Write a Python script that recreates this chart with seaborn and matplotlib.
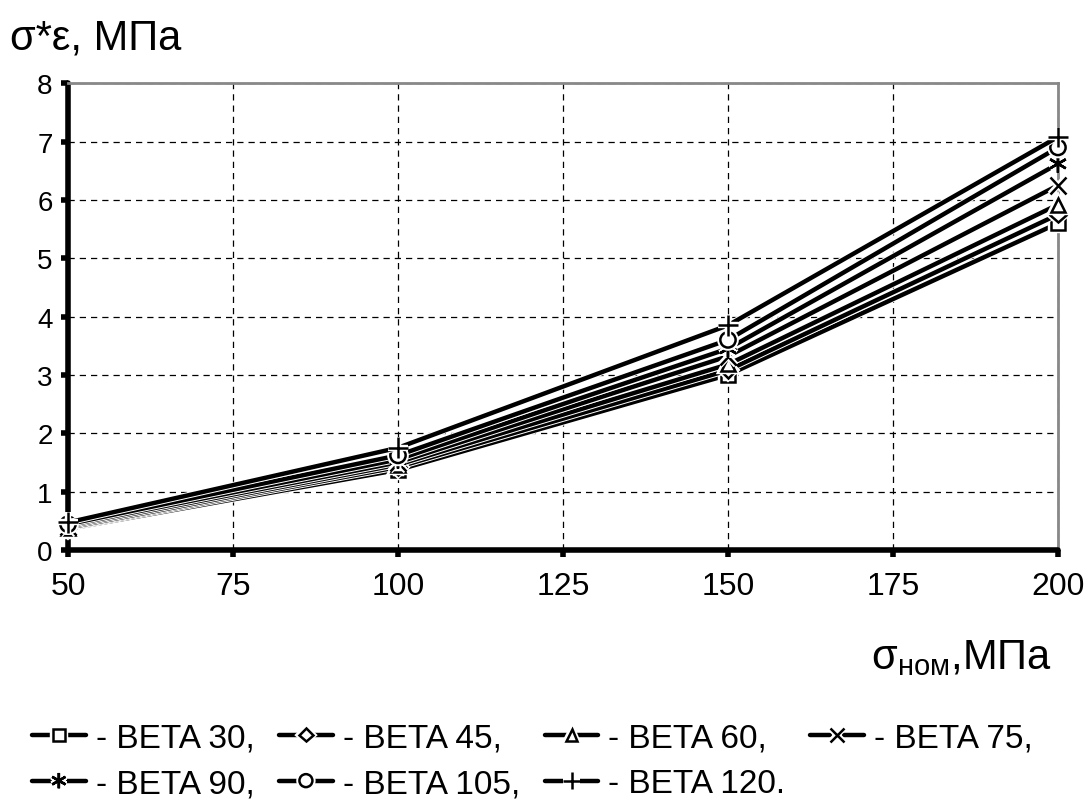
import matplotlib
matplotlib.use('Agg')
import matplotlib.pyplot as plt
import matplotlib.patheffects as pe
import seaborn as sns
import pandas as pd

# nominal stress, MPa
sigma_nom = [50, 100, 150, 200]

beta_30 = [0.36, 1.37, 3.00, 5.60]
beta_45 = [0.37, 1.42, 3.08, 5.75]
beta_60 = [0.38, 1.46, 3.18, 5.92]
beta_75 = [0.40, 1.50, 3.32, 6.25]
beta_90 = [0.42, 1.55, 3.45, 6.62]
beta_105 = [0.44, 1.62, 3.60, 6.90]
beta_120 = [0.47, 1.75, 3.85, 7.08]

series_names = ['BETA 30', 'BETA 45', 'BETA 60', 'BETA 75', 'BETA 90', 'BETA 105', 'BETA 120']
series_values = [beta_30, beta_45, beta_60, beta_75, beta_90, beta_105, beta_120]
legend_labels = ['- BETA 30,', '- BETA 45,', '- BETA 60,', '- BETA 75,',
                 '- BETA 90,', '- BETA 105,', '- BETA 120.']

x_ticks = [50, 75, 100, 125, 150, 175, 200]
y_ticks = [0, 1, 2, 3, 4, 5, 6, 7, 8]

markers = {'BETA 30': ('s', 10), 'BETA 45': ('D', 8), 'BETA 60': ('^', 10),
           'BETA 75': ('x', 12), 'BETA 90': ((6, 2, 0), 13), 'BETA 105': ('o', 11),
           'BETA 120': ('+', 15)}

rows = []
for name, vals in zip(series_names, series_values):
    for x, y in zip(sigma_nom, vals):
        rows.append({'sigma': x, 'value': y, 'beta': name})
df = pd.DataFrame(rows)

sns.set_style('white')
plt.rcParams['font.family'] = ['Liberation Sans', 'DejaVu Sans']
plt.rcParams['text.color'] = 'black'
plt.rcParams['xtick.color'] = 'black'
plt.rcParams['ytick.color'] = 'black'

fig = plt.figure(figsize=(10.88, 8.03), dpi=100)
ax = fig.add_axes([0.0625, 0.314, 0.9099, 0.581])

handles = []
for name in series_names:
    sub = df[df['beta'] == name]
    m, ms = markers[name]
    sns.lineplot(data=sub, x='sigma', y='value', ax=ax, color='black', lw=3.2,
                 marker=m, markersize=ms, markerfacecolor='white',
                 markeredgecolor='black', markeredgewidth=1.8,
                 path_effects=[pe.Stroke(linewidth=4.6, foreground='white'), pe.Normal()],
                 zorder=3, clip_on=False, legend=False)
    handles.append(ax.lines[-1])

ax.set_xlim(50, 200)
ax.set_ylim(0, 8)
ax.set_xticks(x_ticks)
ax.set_yticks(y_ticks)
ax.set_xlabel('')
ax.set_ylabel('')

ax.grid(True, color='black', linestyle=(0, (5, 4)), linewidth=0.9)
ax.set_axisbelow(True)

for side in ['left', 'bottom']:
    ax.spines[side].set_color('black')
    ax.spines[side].set_linewidth(4)
    ax.spines[side].set_capstyle('round')
for side in ['top', 'right']:
    ax.spines[side].set_color('#888888')
    ax.spines[side].set_linewidth(2)

ax.tick_params(axis='y', direction='out', length=5, width=4, color='black',
               labelcolor='black', labelsize=20, pad=6, left=True)
ax.tick_params(axis='x', direction='out', length=5, width=4, color='black',
               labelcolor='black', labelsize=23, pad=10, bottom=True)

fig.text(0.009, 0.952, 'σ*ε, МПа', fontsize=30, ha='left', va='center', color='black')
fig.text(0.967, 0.18, r'σ$_{\mathregular{ном}}$,МПа', fontsize=30, ha='right', va='center',
         color='black')

order = [0, 4, 1, 5, 2, 6, 3]
leg = fig.legend([handles[i] for i in order], [legend_labels[i] for i in order],
                 ncol=4, loc='lower left', bbox_to_anchor=(0.002, -0.034), frameon=False,
                 fontsize=24, handlelength=1.6, handletextpad=0.3, columnspacing=0.75,
                 labelspacing=0.45, markerscale=0.85)
for t in leg.get_texts():
    t.set_color('black')

fig.savefig('out.png', dpi=100)
